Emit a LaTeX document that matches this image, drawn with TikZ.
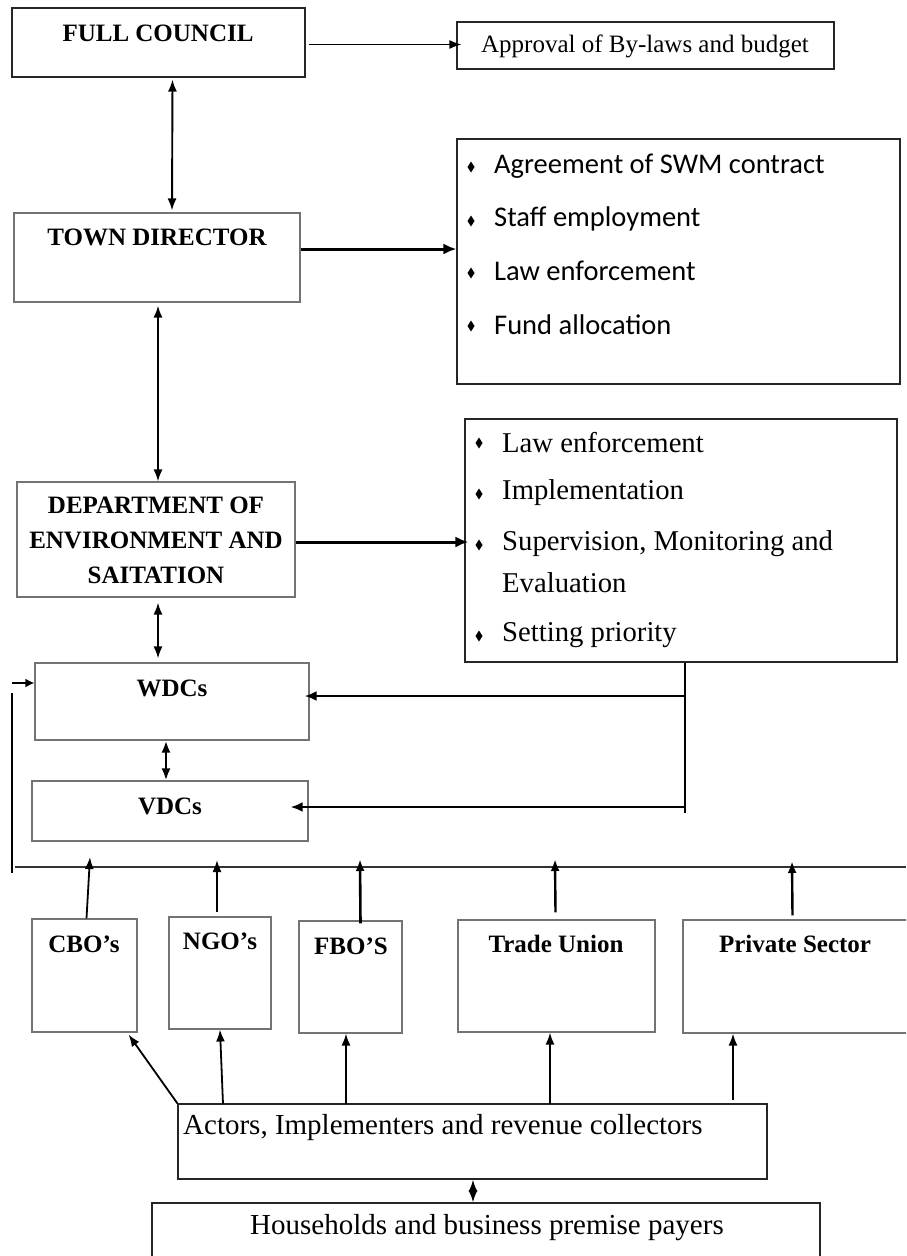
\documentclass[tikz,border=0pt]{standalone}
\usepackage{fontspec}
\setmainfont{Liberation Serif}
\newfontfamily\calfont{Carlito}
\usetikzlibrary{arrows.meta,fit,calc}
\begin{document}
\begin{tikzpicture}[x=1pt,y=-1pt,
  gbox/.style={draw=black!55,line width=1.1pt,inner sep=0pt},
  kbox/.style={draw=black!85,line width=1.1pt,inner sep=0pt},
  ttl/.style={font=\bfseries\fontsize{25}{35}\selectfont,inner sep=0pt,align=center},
  txt/.style={font=\fontsize{25}{30}\selectfont,inner sep=0pt},
  cal/.style={font=\calfont\fontsize{28.5}{32}\selectfont,inner sep=0pt,anchor=west},
  tim/.style={font=\fontsize{28.7}{34}\selectfont,inner sep=0pt,anchor=west},
  big/.style={font=\fontsize{29}{34}\selectfont,inner sep=0pt},
  arr/.style={-{Latex[length=12pt,width=9pt]},line width=1.8pt},
  darr/.style={{Latex[length=12pt,width=9pt]}-{Latex[length=12pt,width=9pt]},line width=1.9pt},
  tarr/.style={-{Latex[length=13pt,width=11pt]},line width=3pt},
  marr/.style={-{Latex[length=12pt,width=10pt]},line width=2.8pt},
  ln/.style={line width=1.2pt,draw=black!80}
]
\useasboundingbox (0,0) rectangle (906,1256);
\clip (0,0) rectangle (906,1256);
\fill[white] (0,0) rectangle (906,1256);
\newcommand\mydiam[2]{\fill (#1,#2-5.5) -- (#1+3.5,#2) -- (#1,#2+5.5) -- (#1-3.5,#2) -- cycle;}

% boxes
\node[kbox,fit={(12,8)(305,77)}] (fc) {};
\node[kbox,fit={(457,22)(834,69)}] (ap) {};
\node[gbox,fit={(14,213)(300,302)}] (td) {};
\node[kbox,fit={(457,139)(900,384)}] (b1) {};
\node[gbox,fit={(17,482)(295,597)}] (dep) {};
\node[kbox,fit={(465,419)(897,662)}] (b2) {};
\node[gbox,fit={(35,663)(309,740)}] (wdc) {};
\node[gbox,fit={(32,781)(308,841)}] (vdc) {};
\node[gbox,fit={(32,919)(137,1032)}] (cbo) {};
\node[gbox,fit={(169,917)(271,1029)}] (ngo) {};
\node[gbox,fit={(299,921)(402,1033)}] (fbo) {};
\node[gbox,fit={(458,920)(655,1032)}] (tu) {};
\node[gbox,fit={(683,920)(914,1033)}] (ps) {};
\node[kbox,fit={(178,1104)(767,1179)}] (act) {};
\node[kbox,fit={(152,1203)(820,1266)}] (hh) {};

% texts
\node[ttl] (fct) at (158,33) {FULL COUNCIL};
\node[txt] (apt) at (645,46) {Approval of By-laws and budget};
\node[ttl] (tdt) at (157,237) {TOWN DIRECTOR};
\mydiam{471}{167}\mydiam{471}{221}\mydiam{471}{273}\mydiam{471}{326}
\node[cal] (b1a) at (494,166) {Agreement of SWM contract};
\node[cal] (b1b) at (494,219) {Staff employment};
\node[cal] (b1c) at (494,271) {Law enforcement};
\node[cal] (b1d) at (494,325) {Fund allocation};
\node[ttl] (dept) at (156,540) {DEPARTMENT OF\\ENVIRONMENT AND\\SAITATION};
\mydiam{479}{443}\mydiam{479}{494}\mydiam{479}{545}\mydiam{479}{636}
\node[tim] (b2a) at (502,443) {Law enforcement};
\node[tim] (b2b) at (502,493) {Implementation};
\node[tim] (b2c) at (502,544) {Supervision, Monitoring and};
\node[tim] (b2d) at (502,583) {Evaluation};
\node[tim] (b2e) at (502,635) {Setting priority};
\node[ttl] (wdct) at (172,688) {WDCs};
\node[ttl] (vdct) at (170,806) {VDCs};
\node[ttl] (cbot) at (84,944) {CBO’s};
\node[ttl] (ngot) at (220,941) {NGO’s};
\node[ttl] (fbot) at (351,946) {FBO’S};
\node[ttl] (tut) at (556,944) {Trade Union};
\node[ttl] (pst) at (795,944) {Private Sector};
\node[big,anchor=west] (actt) at (183,1128) {Actors, Implementers and revenue collectors};
\node[big] (hht) at (487,1228) {Households and business premise payers};

% top connectors
\draw[arr] ($(fc.east)+(3,2)$) -- ($(ap.west)+(5,-1)$);
\draw[darr] ($(fc.south)+(14,2)$) -- ($(td.north)+(15,-2)$);
\draw[tarr] (td.east |- 0,249) -- (b1.west |- 0,249);
\draw[darr] ($(td.south)+(1,3)$) -- ($(dep.north)+(2,0)$);
\draw[tarr] (dep.east |- 0,542) -- ($(b2.west |- 0,542)+(4,0)$);
\draw[darr] ($(dep.south)+(2,5)$) -- ($(wdc.north)+(-14,-4)$);
\draw[darr,line width=2.4pt] ($(wdc.south)+(-6,0)$) -- ($(vdc.north)+(-4,0)$);

% feedback from b2
\coordinate (bs) at (b2.south -| 685,0);
\coordinate (be) at (685,813);
\draw[line width=1.3pt] (bs) -- (be);
\draw[marr] (685,696) -- ($(wdc.east |- 0,696)+(-5,0)$);
\draw[marr] (685,807) -- ($(vdc.east |- 0,807)+(-18,0)$);

% left line and bus
\coordinate (l1) at (12,693);
\coordinate (l2) at (12,873);
\draw[line width=1.3pt] (l1) -- (l2);
\coordinate (la) at (12,683);
\draw[-{Latex[length=9pt,width=9pt]},line width=2.4pt] (la) -- (wdc.west |- la);
\coordinate (bus1) at (15,867);
\coordinate (bus2) at (906,867);
\draw[ln] (bus1) -- (bus2);

% up arrows to bus
\draw[arr] ($(cbo.north)+(2,0)$) -- (90,857);
\draw[arr] ($(ngo.north)+(-3,-4)$) -- (217,860);
\draw[arr,line width=2.6pt] ($(fbo.north)+(10,3)$) -- (360,859);
\draw[arr,line width=2.4pt] ($(tu.north)+(-1,-7)$) -- (555,859);
\draw[arr,line width=2.4pt] ($(ps.north)+(-6,-4)$) -- (792,861);

% up arrows from actors
\draw[arr] (act.north west) -- ($(cbo.south east)+(-9,2)$);
\draw[arr] (223,1104) -- (ngo.south -| 220,0);
\draw[arr] (346,1104) -- (fbo.south -| 346,0);
\draw[arr] (550,1104) -- (tu.south -| 550,0);
\draw[arr] (733,1100) -- (ps.south -| 733,0);
\draw[darr] ($(act.south)+(0.5,0)$) -- ($(hh.north)+(-13,0)$);
\end{tikzpicture}
\end{document}
